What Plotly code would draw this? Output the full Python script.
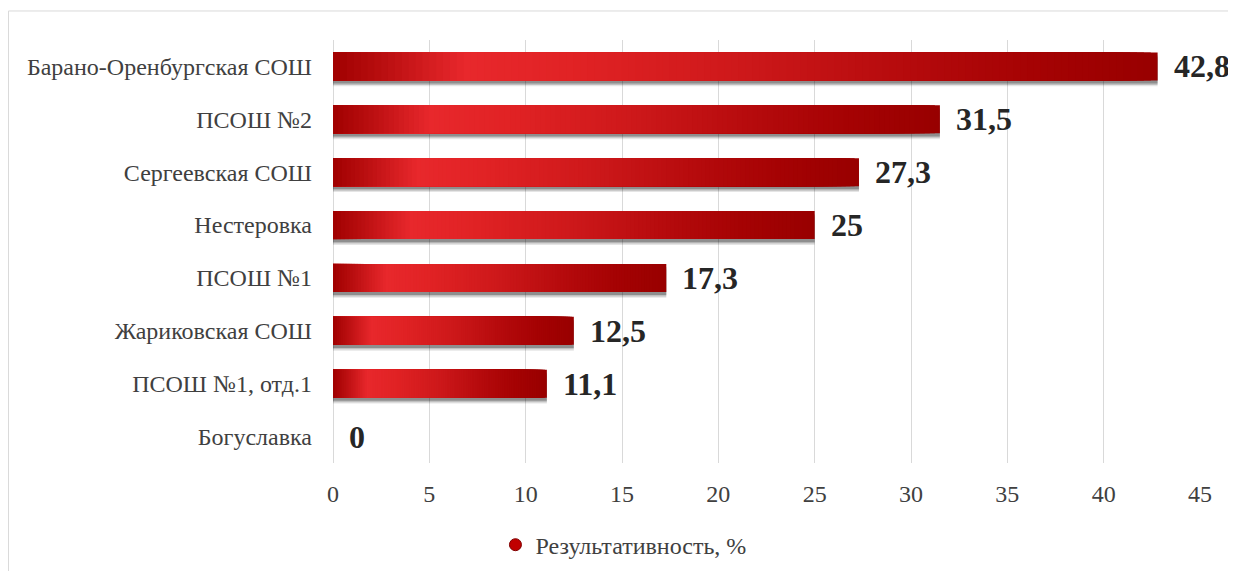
import plotly.graph_objects as go

# data
schools = [
    "Барано-Оренбургская СОШ",
    "ПСОШ №2",
    "Сергеевская СОШ",
    "Нестеровка",
    "ПСОШ №1",
    "Жариковская СОШ",
    "ПСОШ №1, отд.1",
    "Богуславка",
]
results = [42.8, 31.5, 27.3, 25, 17.3, 12.5, 11.1, 0]
series_name = "Результативность, %"
x_ticks = [0, 5, 10, 15, 20, 25, 30, 35, 40, 45]

# gradient along each bar: (fraction of length, rgb)
grad_stops = [
    (0.00, (160, 0, 0)),
    (0.06, (185, 14, 16)),
    (0.16, (232, 40, 44)),
    (0.30, (224, 34, 36)),
    (0.50, (205, 24, 26)),
    (0.70, (180, 10, 12)),
    (0.85, (165, 2, 3)),
    (1.00, (152, 0, 0)),
]
N_SEG = 120
BAR_W = 0.53
FONT = "Liberation Serif, Times New Roman, serif"


def grad_color(t):
    for (t0, c0), (t1, c1) in zip(grad_stops, grad_stops[1:]):
        if t <= t1:
            k = (t - t0) / (t1 - t0) if t1 > t0 else 0
            return "rgb(%d,%d,%d)" % tuple(round(a + (b - a) * k) for a, b in zip(c0, c1))
    return "rgb(%d,%d,%d)" % grad_stops[-1][1]


fig = go.Figure()

# soft drop shadow under each bar
for shift, alpha in [(0.11, 0.10), (0.085, 0.16), (0.06, 0.26)]:
    fig.add_trace(go.Bar(
        y=schools, x=results, orientation="h", width=BAR_W,
        offset=-BAR_W / 2 + shift,
        marker=dict(color=f"rgba(0,0,0,{alpha})", line_width=0),
        showlegend=False, hoverinfo="skip",
    ))

# gradient: longest (right-end colour) first, shorter ones painted over it
for i in range(N_SEG):
    frac = 1 - i / N_SEG
    fig.add_trace(go.Bar(
        y=schools, x=[v * frac for v in results], orientation="h", width=BAR_W,
        marker=dict(color=grad_color(frac - 0.5 / N_SEG), line_width=0),
        showlegend=False, hoverinfo="skip",
    ))

# legend entry (sphere-like dot)
fig.add_trace(go.Scatter(
    x=[None], y=[None], mode="markers", name=series_name,
    marker=dict(symbol="circle", size=12, color="#c00000",
                line=dict(color="#800000", width=1)),
))

for s, v in zip(schools, results):
    fig.add_annotation(
        x=v, y=s, text=f"{v:g}".replace(".", ","), showarrow=False,
        xanchor="left", xshift=14,
        font=dict(family=FONT, size=32, color="#262626", weight="bold"),
    )

# page number, cut off at the top as in the source
fig.add_annotation(
    xref="paper", yref="paper", x=0.335, y=1.059, text="39", showarrow=False,
    xanchor="center", yanchor="bottom", font=dict(family=FONT, size=24, color="#262626"),
)

# outer frame of the pasted chart
fig.add_shape(
    type="rect", xref="paper", yref="paper",
    x0=-0.3743, y0=-0.3, x1=1.2, y1=1.0686,
    line=dict(color="#d9d9d9", width=1), fillcolor="rgba(0,0,0,0)", layer="below",
)

fig.update_layout(
    width=1228, height=563,
    barmode="overlay",
    paper_bgcolor="white", plot_bgcolor="white",
    font=dict(family=FONT, size=24, color="#404040"),
    margin=dict(l=325, r=36, t=32, b=108, autoexpand=False),
    xaxis=dict(
        range=[0, 45], tickvals=x_ticks, showgrid=True, gridcolor="#d9d9d9",
        gridwidth=1, zeroline=True, zerolinecolor="#d9d9d9", zerolinewidth=1,
        showline=False, ticks="", ticklabelstandoff=14,
        tickfont=dict(size=24, color="#404040"),
    ),
    yaxis=dict(
        autorange="reversed", showgrid=False, showline=False, ticks="",
        ticklabelstandoff=20, tickfont=dict(size=24, color="#404040"),
    ),
    legend=dict(
        orientation="h", x=0.335, xanchor="center",
        yref="container", y=0.046, yanchor="middle",
        font=dict(size=24, color="#404040"),
    ),
    showlegend=True,
)

fig.write_html("out.html")
